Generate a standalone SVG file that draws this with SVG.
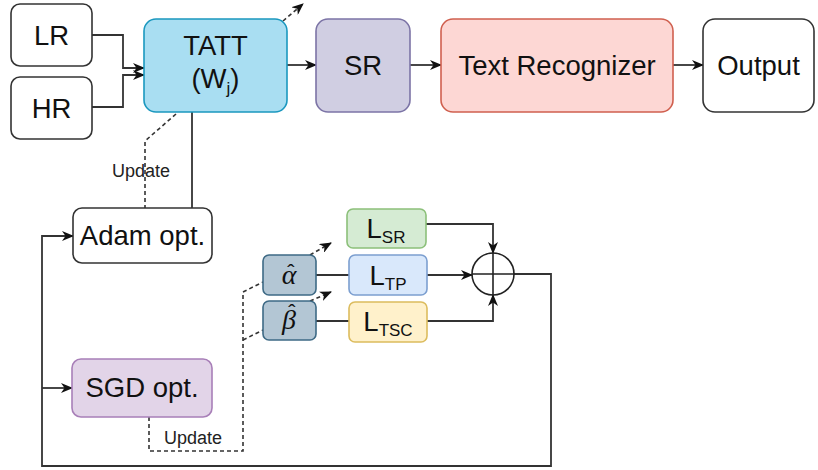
<svg xmlns="http://www.w3.org/2000/svg" width="818" height="470" viewBox="0 0 818 470">
<defs>
<marker id="arr" viewBox="0 0 12 10" refX="11" refY="5" markerWidth="12" markerHeight="10" markerUnits="userSpaceOnUse" orient="auto">
<path d="M0,0 L12,5 L0,10 L3.5,5 z" fill="#111"/>
</marker>
<style>
.box{stroke-width:1.6}
.t{font-family:"Liberation Sans",Arial,sans-serif;font-size:27.5px;fill:#111;text-anchor:middle}
.sub{font-size:17px}
.small{font-family:"Liberation Sans",Arial,sans-serif;font-size:18px;fill:#222;text-anchor:middle}
.g{font-family:"Liberation Serif","DejaVu Serif",serif;font-style:italic;font-size:28px;fill:#111;text-anchor:middle}
.hat{font-family:"Liberation Sans",Arial,sans-serif;font-style:normal;font-size:22px}
.ln{fill:none;stroke:#333;stroke-width:1.8}
.dash{fill:none;stroke:#333;stroke-width:1.6;stroke-dasharray:4 3}
</style>
</defs>
<rect width="818" height="470" fill="#fff"/>

<g id="connectors">
<path class="ln" d="M92,35 H123 V68 H144" marker-end="url(#arr)"/>
<path class="ln" d="M92,107 H123 V75 H144" marker-end="url(#arr)"/>
<path class="ln" d="M287,65 H316" marker-end="url(#arr)"/>
<path class="ln" d="M410,65 H441" marker-end="url(#arr)"/>
<path class="ln" d="M673,65 H703" marker-end="url(#arr)"/>
<path class="dash" d="M283,21 L303,4" marker-end="url(#arr)"/>
<path class="ln" d="M192,112 V208"/>
<path class="dash" d="M176,114 L145,141 V208"/>
<path class="ln" d="M514,274 H551 V466 H42 V236 H73" marker-end="url(#arr)"/>
<path class="ln" d="M42,388 H72" marker-end="url(#arr)"/>
<path class="ln" d="M426,224 H493 V253" marker-end="url(#arr)"/>
<path class="ln" d="M427,275 H472" marker-end="url(#arr)"/>
<path class="ln" d="M427,321 H493 V295" marker-end="url(#arr)"/>
<path class="ln" d="M316,275 H349"/>
<path class="ln" d="M316,321 H349"/>
<path class="dash" d="M149,417 V451 H243 V292 L263,282"/>
<path class="dash" d="M243,340 L263,330"/>
<path class="dash" d="M310,255 L331,243" marker-end="url(#arr)"/>
<path class="dash" d="M310,301 L331,292" marker-end="url(#arr)"/>
<text class="small" x="141" y="177">Update</text>
<text class="small" x="193" y="444">Update</text>
</g>

<g id="LR">
<rect class="box" x="11" y="4" width="81" height="62" rx="9" fill="#fff" stroke="#333"/>
<text class="t" x="51.5" y="45">LR</text>
</g>
<g id="HR">
<rect class="box" x="11" y="77" width="81" height="62" rx="9" fill="#fff" stroke="#333"/>
<text class="t" x="51.5" y="118">HR</text>
</g>
<g id="TATT">
<rect class="box" x="144" y="19" width="143" height="93" rx="12" fill="#a9def2" stroke="#1b98bf"/>
<text class="t" x="215.5" y="55">TATT</text>
<text class="t" x="215.5" y="88">(W<tspan class="sub" dy="6">j</tspan><tspan dy="-6">)</tspan></text>
</g>
<g id="SR">
<rect class="box" x="316" y="19" width="94" height="93" rx="12" fill="#d0cee2" stroke="#7c74a6"/>
<text class="t" x="363" y="75">SR</text>
</g>
<g id="TextRecognizer">
<rect class="box" x="441" y="19" width="232" height="93" rx="12" fill="#fdd7d4" stroke="#d0604f"/>
<text class="t" x="557" y="75">Text Recognizer</text>
</g>
<g id="Output">
<rect class="box" x="703" y="19" width="111" height="93" rx="12" fill="#fff" stroke="#333"/>
<text class="t" x="758.5" y="75">Output</text>
</g>
<g id="Adam">
<rect class="box" x="73" y="208" width="139" height="55" rx="9" fill="#fff" stroke="#333"/>
<text class="t" x="142.5" y="245">Adam opt.</text>
</g>
<g id="SGD">
<rect class="box" x="72" y="359" width="140" height="58" rx="9" fill="#e2d4e8" stroke="#a87fb8"/>
<text class="t" x="142" y="397">SGD opt.</text>
</g>
<g id="alpha">
<rect class="box" x="263" y="255" width="53" height="40" rx="6" fill="#b3c6d4" stroke="#3e6a85"/>
<text class="g"><tspan x="289" y="284">α</tspan><tspan class="hat" x="291" y="280">ˆ</tspan></text>
</g>
<g id="beta">
<rect class="box" x="263" y="301" width="53" height="39" rx="6" fill="#b3c6d4" stroke="#3e6a85"/>
<text class="g"><tspan x="289" y="329">β</tspan><tspan class="hat" x="292" y="320">ˆ</tspan></text>
</g>
<g id="LSR">
<rect class="box" x="347" y="209" width="79" height="39" rx="6" fill="#d5ebd3" stroke="#8cc07a"/>
<text class="t" x="386" y="238">L<tspan class="sub" dy="5">SR</tspan></text>
</g>
<g id="LTP">
<rect class="box" x="349" y="255" width="78" height="40" rx="6" fill="#d9e8fb" stroke="#7c9fd0"/>
<text class="t" x="388" y="285">L<tspan class="sub" dy="5">TP</tspan></text>
</g>
<g id="LTSC">
<rect class="box" x="349" y="302" width="78" height="40" rx="6" fill="#fff1cb" stroke="#dcbc5e"/>
<text class="t" x="388" y="331">L<tspan class="sub" dy="5">TSC</tspan></text>
</g>
<g id="sum">
<circle cx="493" cy="274" r="21" fill="none" stroke="#222" stroke-width="1.6"/>
<path d="M472,274 H514 M493,253 V295" stroke="#222" stroke-width="1.6"/>
</g>
</svg>
